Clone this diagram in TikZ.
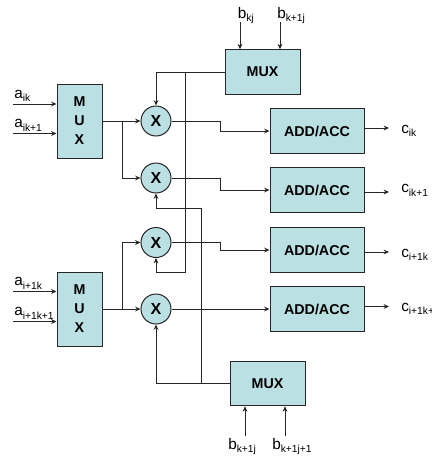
\documentclass[tikz,border=0pt]{standalone}
\usepackage{fontspec}
\setmainfont{Liberation Sans}
\usetikzlibrary{arrows.meta, calc}
\definecolor{boxfill}{HTML}{BBE0E3}
\newcommand{\lbl}[2]{\fontsize{11.5}{13}\selectfont #1\raisebox{-0.26em}{\fontsize{7.7}{9}\selectfont #2}}
\tikzset{
  block/.style={draw=black!85,fill=boxfill,line width=0.75pt,inner sep=0pt,font=\fontsize{10.7}{14.2}\selectfont\bfseries,align=center},
  mult/.style={circle,draw=black!85,fill=boxfill,line width=0.75pt,inner sep=0pt,minimum size=22.5pt,font=\fontsize{12}{12}\selectfont\bfseries},
  wire/.style={line width=0.7pt,black!85},
  sig/.style={wire,-{Stealth[length=4pt,width=3.6pt]}},
  tag/.style={anchor=base west,inner sep=0pt}
}
\begin{document}
\begin{tikzpicture}[x=0.75pt,y=-0.75pt]
\useasboundingbox (0,0) rectangle (432,458);
% mux blocks
\node[block,minimum width=33.75pt,minimum height=55.5pt] (muxa) at (79.5,121) {M\\U\\X};
\node[block,minimum width=33.75pt,minimum height=55.5pt] (muxc) at (79.5,309) {M\\U\\X};
\node[block,minimum width=56.25pt,minimum height=33.5pt] (muxb) at (262.5,72) {MUX};
\node[block,minimum width=56.25pt,minimum height=33.5pt] (muxd) at (267.5,383.5) {MUX};
% multipliers
\node[mult] (xa) at (156,121) {X};
\node[mult] (xb) at (156,178) {X};
\node[mult] (xc) at (156,242.5) {X};
\node[mult] (xd) at (156,309) {X};
% accumulators
\node[block,minimum width=70.5pt,minimum height=33.5pt] (adda) at (317,131) {ADD/ACC};
\node[block,minimum width=70.5pt,minimum height=33.5pt] (addb) at (317,190) {ADD/ACC};
\node[block,minimum width=70.5pt,minimum height=33.5pt] (addc) at (317,250) {ADD/ACC};
\node[block,minimum width=70.5pt,minimum height=33.5pt] (addd) at (317,309) {ADD/ACC};
% input labels
\node[tag] (aik) at (14,98) {\lbl{a}{ik}};
\node[tag] (aika) at (14,127.5) {\lbl{a}{ik+1}};
\node[tag] (aiak) at (14,285.5) {\lbl{a}{i+1k}};
\node[tag] (aiaka) at (14,315.5) {\lbl{a}{i+1k+1}};
\node[tag] (bkj) at (237.5,18) {\lbl{b}{kj}};
\node[tag] (bkaj) at (277,18) {\lbl{b}{k+1j}};
\node[tag] (bkajd) at (228,449) {\lbl{b}{k+1j}};
\node[tag] (bkaja) at (272,449) {\lbl{b}{k+1j+1}};
% output labels
\node[tag] (cik) at (401,133) {\lbl{c}{ik}};
\node[tag] (cika) at (401,192.5) {\lbl{c}{ik+1}};
\node[tag] (ciak) at (401,257) {\lbl{c}{i+1k}};
\node[tag] (ciaka) at (401,311) {\lbl{c}{i+1k+}};
% free ends
\coordinate (ina) at (13,104);
\coordinate (inb) at (13,133.5);
\coordinate (inc) at (13,291.5);
\coordinate (ind) at (13,321.5);
\coordinate (ine) at (240,21.5);
\coordinate (inf) at (280,21.5);
\coordinate (ing) at (245,436);
\coordinate (inh) at (285,436);
\coordinate (outa) at (389,128);
\coordinate (outb) at (389,192);
\coordinate (outc) at (389,252);
\coordinate (outd) at (389,306.5);
% inputs
\draw[sig] (ina) -- (ina -| muxa.west);
\draw[sig] (inb) -- (inb -| muxa.west);
\draw[sig] (inc) -- (inc -| muxc.west);
\draw[sig] (ind) -- (ind -| muxc.west);
\draw[sig] (ine) -- (ine |- muxb.north);
\draw[sig] (inf) -- (inf |- muxb.north);
\draw[sig] (ing) -- (ing |- muxd.south);
\draw[sig] (inh) -- (inh |- muxd.south);
% mux to multipliers
\coordinate (forka) at (122,121);
\coordinate (forkc) at (122,309);
\draw[sig] (muxa.east) -- (xa.west);
\draw[sig] (forka) |- (xb.west);
\draw[sig] (muxc.east) -- (xd.west);
\draw[sig] (forkc) |- (xc.west);
% coefficient feeds
\coordinate (tapb) at (185.5,272);
\coordinate (tapd) at (201,208);
\draw[sig] (muxb.west) -| (xa.north);
\draw[wire] (tapb |- muxb.west) -- (tapb);
\draw[sig] (tapb) -| (xc.south);
\draw[sig] (muxd.west) -| (xd.south);
\draw[wire] (tapd |- muxd.west) -- (tapd);
\draw[sig] (tapd) -| (xb.south);
% products
\coordinate (stepa) at (220.5,121);
\coordinate (stepb) at (220.5,178);
\coordinate (stepc) at (220.5,242.5);
\draw[wire] (xa.east) -- (stepa);
\draw[sig] (stepa) |- (adda.west);
\draw[wire] (xb.east) -- (stepb);
\draw[sig] (stepb) |- (addb.west);
\draw[wire] (xc.east) -- (stepc);
\draw[sig] (stepc) |- (addc.west);
\draw[sig] (xd.east) -- (addd.west);
% outputs
\draw[sig] (adda.east |- outa) -- (outa);
\draw[sig] (addb.east |- outb) -- (outb);
\draw[sig] (addc.east |- outc) -- (outc);
\draw[sig] (addd.east |- outd) -- (outd);
\end{tikzpicture}
\end{document}
